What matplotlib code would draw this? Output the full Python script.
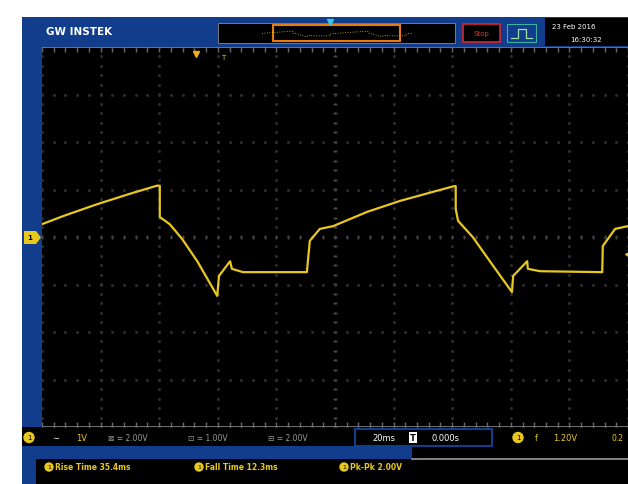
import numpy as np
import matplotlib
matplotlib.use("Agg")
import matplotlib.pyplot as plt
from matplotlib.patches import Rectangle, FancyBboxPatch, Polygon

# trace: time (ms, 20 ms/div, trigger at centre) and volts (1 V/div)
tiempo_ms = [-100, -92.8, -81.2, -70, -60.8, -59.8, -59.8, -56.4, -52.2, -47, -40.2,
             -39.6, -35.8, -35.2, -31.4, -9.6, -8.6, -5.2, -0.6, 11, 22.2, 33.4, 40.6,
             41.2, 41.2, 42, 47, 54, 60.4, 60.8, 65.6, 65.8, 70, 91.2, 91.4, 95.6, 100]
voltios = [0.27, 0.44, 0.69, 0.91, 1.08, 1.08, 0.42, 0.27, -0.04, -0.51, -1.24,
           -0.82, -0.51, -0.67, -0.74, -0.74, -0.08, 0.17, 0.23, 0.53, 0.76, 0.95, 1.07,
           1.07, 0.59, 0.34, 0.00, -0.61, -1.16, -0.82, -0.51, -0.67, -0.72, -0.74, -0.19, 0.17, 0.23]

ms_por_div = 20
v_por_div = 1

canal = "1V"
escalas = ["\u22a0 = 2.00V", "\u22a1 = 1.00V", "\u229f = 2.00V"]
base_tiempo = "20ms"
posicion = "0.000s"
disparo = "1.20V"
medidas = ["Rise Time 35.4ms", "Fall Time 12.3ms", "Pk-Pk 2.00V"]
fecha = ["23 Feb 2016", "16:30:32"]

AMARILLO = "#e8c81e"
AZUL = "#123c8c"
W, H = 628, 485

fig = plt.figure(figsize=(W / 100, H / 100), dpi=100)
fig.patch.set_facecolor("white")

# capa de fondo en pixeles
bg = fig.add_axes([0, 0, 1, 1])
bg.set_xlim(0, W)
bg.set_ylim(H, 0)
bg.axis("off")

def rect(x0, y0, x1, y1, fc, ec="none", lw=0, z=1):
    bg.add_patch(Rectangle((x0, y0), x1 - x0, y1 - y0, facecolor=fc, edgecolor=ec, linewidth=lw, zorder=z))

# marcos azules y negros
rect(22, 18, W, 48, AZUL)
rect(22, 18, 42, 430, AZUL)
rect(22, 428, W, 485, "black")
rect(22, 447, 412, 460, AZUL)
rect(22, 460, 36, 485, AZUL)
bg.plot([412, W], [460, 460], color="#9a9a9a", lw=1.2, zorder=2)

# cabecera
bg.text(46, 32, "GW INSTEK", color="white", fontsize=7.5, fontweight="bold", va="center", zorder=3)
rect(218, 24, 455, 44, "black", "#888888", 0.6, z=2)
rect(273, 26, 400, 42, "black", "#e87a10", 1.5, z=3)
mini_x = np.array(tiempo_ms) * 0.75 + 337
mini_y = 35 - np.array(voltios) * 2.5
bg.plot(mini_x, mini_y, color=AMARILLO, lw=0.6, ls=(0, (1, 2)), zorder=4)
bg.plot([330], [23], marker="v", color="#33c8e8", ms=4, zorder=5)
rect(463, 25, 500, 43, "black", "#d8262c", 1.2, z=2)
bg.text(481.5, 34, "Stop", color="#e03030", fontsize=5, ha="center", va="center", zorder=3)
rect(507, 25, 536, 43, AZUL, "#40b0a0", 0.8, z=2)
bg.plot([511, 518, 518, 526, 526, 532], [39, 39, 30, 30, 39, 39], color="#a0e0a0", lw=0.9, zorder=3)
rect(545, 19, W, 47, "black", z=2)
bg.text(552, 27, fecha[0], color="white", fontsize=5, va="center", zorder=3)
bg.text(570, 40, fecha[1], color="white", fontsize=5, va="center", zorder=3)

# marcador de tierra del canal 1
bg.add_patch(Polygon([[24, 232], [36, 232], [41, 238.5], [36, 245], [24, 245]],
                     closed=True, facecolor=AMARILLO, zorder=3))
bg.text(30, 238.5, "1", color="black", fontsize=5, ha="center", va="center", fontweight="bold", zorder=4)

# fila de estado
bg.add_patch(plt.Circle((29, 438.5), 5, color=AMARILLO, zorder=3))
bg.text(29, 438.5, "1", color="black", fontsize=5, ha="center", va="center", zorder=4)
bg.text(52, 438.5, "\u223c", color="white", fontsize=6, va="center", zorder=3)
bg.text(76, 438.5, canal, color=AMARILLO, fontsize=6, va="center", zorder=3)
for xi, s in zip([108, 188, 268], escalas):
    bg.text(xi, 438.5, s, color="#9a9a9a", fontsize=5.5, va="center", zorder=3)
rect(355, 430, 492, 447, "black", AZUL, 1.5, z=2)
bg.text(372, 438.5, base_tiempo, color="white", fontsize=6, va="center", zorder=3)
bg.text(410, 438.5, "T", color="black", fontsize=6, va="center", fontweight="bold", zorder=4,
        bbox=dict(boxstyle="square,pad=0.1", fc="white", ec="none"))
bg.text(432, 438.5, posicion, color="white", fontsize=6, va="center", zorder=3)
bg.add_patch(plt.Circle((518, 438.5), 5, color=AMARILLO, zorder=3))
bg.text(518, 438.5, "1", color="black", fontsize=5, ha="center", va="center", zorder=4)
bg.text(535, 438.5, "f", color=AMARILLO, fontsize=6, va="center", zorder=3)
bg.text(553, 438.5, disparo, color=AMARILLO, fontsize=6, va="center", zorder=3)
bg.text(612, 438.5, "0.2", color=AMARILLO, fontsize=5.5, va="center", zorder=3)

# medidas
for xi, s in zip([45, 195, 340], medidas):
    bg.add_patch(plt.Circle((xi + 4, 468), 4, color=AMARILLO, zorder=3))
    bg.text(xi + 4, 468, "1", color="black", fontsize=4.5, ha="center", va="center", zorder=4)
    bg.text(xi + 10, 468, s, color=AMARILLO, fontsize=5.5, va="center", fontweight="bold", zorder=3)

# pantalla
ax = fig.add_axes([42 / W, 1 - 428 / H, (W - 42) / W, 380 / H])
ax.set_facecolor("black")
ax.set_xlim(-5 * ms_por_div, 5 * ms_por_div)
ax.set_ylim(-4 * v_por_div, 4 * v_por_div)
for s in ax.spines.values():
    s.set_visible(False)
ax.set_xticks([])
ax.set_yticks([])

# reticula punteada (tenue)
gx = np.arange(-5, 5.01, 1) * ms_por_div
gy = np.arange(-4, 4.01, 1) * v_por_div
fx = np.arange(-5, 5.01, 0.2) * ms_por_div
fy = np.arange(-4, 4.01, 0.2) * v_por_div
for x in gx:
    ax.plot(np.full_like(fy, x), fy, ls="none", marker="s", ms=1.0, color="#2f2f2f", zorder=1)
for y in gy:
    ax.plot(fx, np.full_like(fx, y), ls="none", marker="s", ms=1.0, color="#2f2f2f", zorder=1)
ax.plot(fx, np.zeros_like(fx), ls="none", marker="|", ms=2.5, color="#454545", zorder=1)
ax.plot(np.zeros_like(fy), fy, ls="none", marker="_", ms=2.5, color="#454545", zorder=1)
ax.axhline(4 * v_por_div, color="#7a7a7a", lw=1.3, zorder=2)
ax.axhline(-4 * v_por_div, color="#7a7a7a", lw=1.3, zorder=2)
ax.plot(fx, np.full_like(fx, 3.93), ls="none", marker="|", ms=3, color="#6a6a6a", zorder=2)
ax.plot(fx, np.full_like(fx, -3.93), ls="none", marker="|", ms=3, color="#6a6a6a", zorder=2)

# senal
ax.plot(tiempo_ms, voltios, color=AMARILLO, lw=1.6, solid_joinstyle="round", zorder=5)

# marcador de disparo
ax.plot([-2.4 * ms_por_div + 0.5], [3.85], marker="v", color="#f0b010", ms=5, clip_on=False, zorder=6)
ax.text(-1.9 * ms_por_div, 3.8, "T", color=AMARILLO, fontsize=5, ha="center", va="center", zorder=6)
ax.plot([5 * ms_por_div], [-0.35], marker="<", color=AMARILLO, ms=4, clip_on=False, zorder=6)

# caja de frecuencia
bg.add_patch(FancyBboxPatch((530, 411), 96, 12, boxstyle="round,pad=0,rounding_size=4",
                            facecolor="white", edgecolor="white", zorder=10))
bg.add_patch(Rectangle((534, 413), 8, 8, facecolor="black", zorder=11))
bg.text(538, 417, "B", color="white", fontsize=4.5, ha="center", va="center", zorder=12)
bg.text(548, 417, "f  10.00Hz", color="black", fontsize=5.5, va="center", zorder=12)
bg.set_zorder(0)
ax.set_zorder(1)

plt.savefig("out.png", dpi=100, facecolor=fig.get_facecolor())
